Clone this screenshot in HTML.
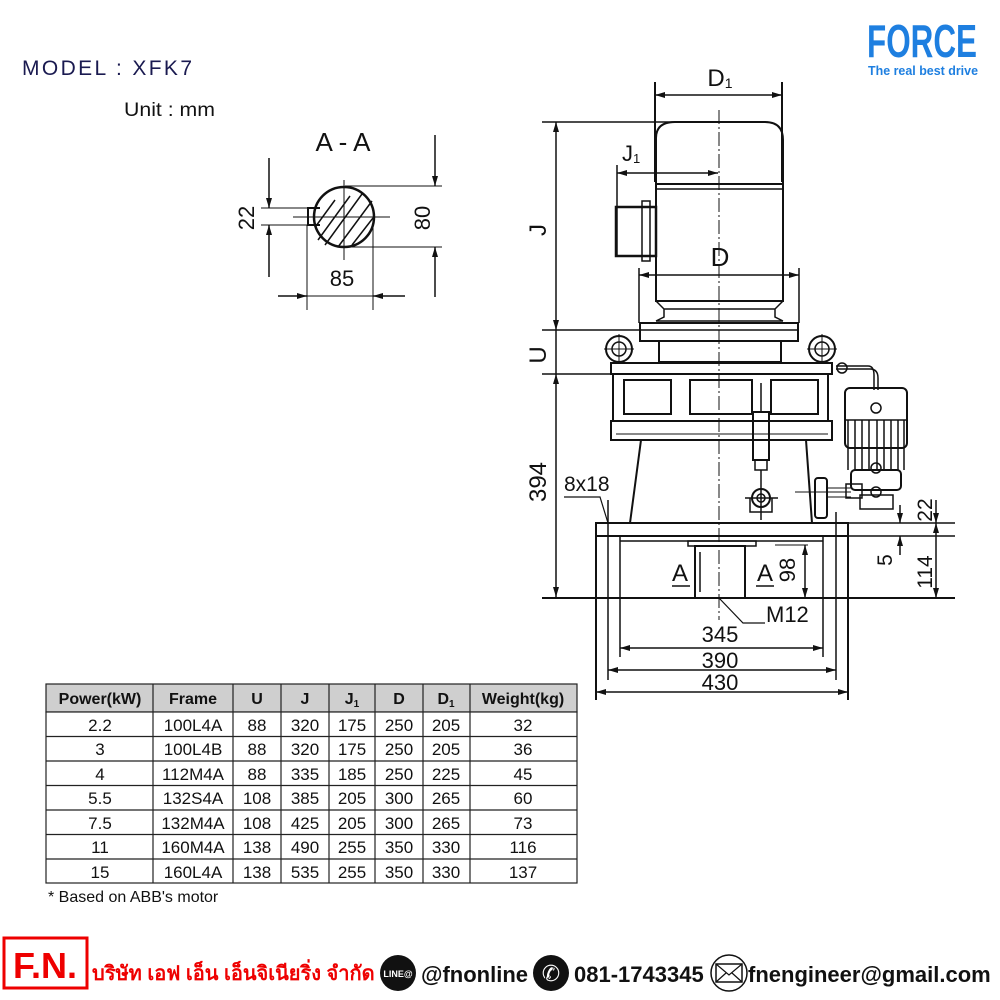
<!DOCTYPE html>
<html><head><meta charset="utf-8"><style>
body{margin:0;background:#fff;width:1000px;height:1000px;overflow:hidden}
svg{display:block}
text{font-family:"Liberation Sans",sans-serif}
</style></head><body>
<svg width="1000" height="1000" viewBox="0 0 1000 1000" xmlns="http://www.w3.org/2000/svg">
<defs>
<marker id="ar" viewBox="0 0 10 6" refX="10" refY="3" markerWidth="10" markerHeight="6" orient="auto-start-reverse" markerUnits="userSpaceOnUse"><path d="M0,0 L10,3 L0,6z" fill="#111"/></marker>
</defs>
<text x="22" y="75" font-size="21" fill="#1a1a50" textLength="170" lengthAdjust="spacing">MODEL : XFK7</text>
<text x="124" y="116" font-size="19" fill="#111" textLength="91" lengthAdjust="spacingAndGlyphs">Unit : mm</text>
<text x="867" y="57" font-size="46" font-weight="bold" fill="#1e7fe0" textLength="110" lengthAdjust="spacingAndGlyphs" font-family="Liberation Sans Narrow, Liberation Sans">FORCE</text>
<text x="868" y="75" font-size="13" font-weight="bold" fill="#1e7fe0" textLength="110" lengthAdjust="spacingAndGlyphs">The real best drive</text>

<!-- A-A section -->
<g stroke="#111" stroke-width="1.5" fill="none">
<text x="343" y="151" font-size="26" text-anchor="middle" fill="#111" stroke="none">A - A</text>
<circle cx="344" cy="217" r="30" stroke-width="2.5"/>
<path d="M320,208 L308,208 L308,225 L320,225" stroke-width="2"/>
<path d="M318,240 L350,196 M325,245 L362,194 M338,247 L372,201 M352,245 L373,218 M316,226 L335,200" stroke-width="1.5"/>
<line x1="293" y1="217" x2="390" y2="217" stroke-width="1"/>
<line x1="344" y1="180" x2="344" y2="260" stroke-width="1"/>
<line x1="261" y1="208" x2="320" y2="208" stroke-width="1"/><line x1="261" y1="225" x2="320" y2="225" stroke-width="1"/>
<line x1="269" y1="158" x2="269" y2="208" marker-end="url(#ar)"/><line x1="269" y1="277" x2="269" y2="225" marker-end="url(#ar)"/>
<line x1="345" y1="186" x2="442" y2="186" stroke-width="1"/><line x1="345" y1="247" x2="442" y2="247" stroke-width="1"/>
<line x1="435" y1="135" x2="435" y2="186" marker-end="url(#ar)"/><line x1="435" y1="297" x2="435" y2="247" marker-end="url(#ar)"/>
<line x1="307" y1="225" x2="307" y2="310" stroke-width="1"/><line x1="373" y1="220" x2="373" y2="310" stroke-width="1"/>
<line x1="278" y1="296" x2="307" y2="296" marker-end="url(#ar)"/><line x1="405" y1="296" x2="373" y2="296" marker-end="url(#ar)"/>
<line x1="307" y1="296" x2="373" y2="296" stroke-width="1"/>
</g>
<text x="254" y="218" font-size="22" fill="#111" transform="rotate(-90 254 218)" text-anchor="middle">22</text>
<text x="430" y="218" font-size="22" fill="#111" transform="rotate(-90 430 218)" text-anchor="middle">80</text>
<text x="342" y="286" font-size="22" fill="#111" text-anchor="middle">85</text>

<!-- main drawing -->
<g stroke="#111" stroke-width="1.5" fill="none">
<line x1="655" y1="82" x2="655" y2="182" stroke-width="2"/><line x1="782" y1="82" x2="782" y2="182" stroke-width="2"/>
<line x1="655" y1="95" x2="782" y2="95" marker-start="url(#ar)" marker-end="url(#ar)"/>
<line x1="542" y1="122" x2="760" y2="122"/>
<path d="M656,184 L656,138 Q656,122 675,122 L765,122 Q783,122 783,140 L783,184" stroke-width="2"/>
<rect x="656" y="184" width="127" height="117" stroke-width="2"/>
<line x1="656" y1="189" x2="783" y2="189"/>
<path d="M656,301 L664,309 L664,317 L656,321 M783,301 L775,309 L775,317 L783,321 M664,309 L775,309 M656,321 L783,321"/>
<line x1="617" y1="165" x2="617" y2="256"/>
<line x1="617" y1="173" x2="718" y2="173" marker-start="url(#ar)" marker-end="url(#ar)"/>
<rect x="616" y="207" width="40" height="49" stroke-width="2.5"/>
<rect x="642" y="201" width="8" height="60"/>
<line x1="719" y1="110" x2="719" y2="620" stroke-width="1" stroke-dasharray="14,3,2,3"/>
<line x1="639" y1="268" x2="639" y2="323"/><line x1="799" y1="268" x2="799" y2="323"/>
<line x1="639" y1="275" x2="799" y2="275" marker-start="url(#ar)" marker-end="url(#ar)"/>
<rect x="640" y="323" width="158" height="18" stroke-width="2"/>
<line x1="640" y1="330" x2="798" y2="330"/>
<rect x="659" y="341" width="122" height="21" stroke-width="2"/>
<line x1="556" y1="122" x2="556" y2="330" marker-start="url(#ar)" marker-end="url(#ar)"/>
<line x1="556" y1="330" x2="556" y2="374"/>
<line x1="556" y1="374" x2="556" y2="597" marker-start="url(#ar)" marker-end="url(#ar)"/>
<line x1="542" y1="330" x2="640" y2="330"/><line x1="542" y1="374" x2="612" y2="374"/>
<circle cx="619" cy="349" r="13" stroke-width="2"/><circle cx="619" cy="349" r="7"/>
<circle cx="822" cy="349" r="13" stroke-width="2"/><circle cx="822" cy="349" r="7"/>
<path d="M604,349 L634,349 M619,334 L619,364 M807,349 L837,349 M822,334 L822,364" stroke-width="1"/>
<rect x="611" y="363" width="221" height="11" stroke-width="2"/>
<rect x="613" y="374" width="215" height="47" stroke-width="2"/>
<rect x="624" y="380" width="47" height="34" stroke-width="2"/>
<rect x="690" y="380" width="62" height="34" stroke-width="2"/>
<rect x="771" y="380" width="47" height="34" stroke-width="2"/>
<rect x="611" y="421" width="221" height="19" stroke-width="2"/>
<line x1="616" y1="434" x2="828" y2="434" stroke-width="1"/>
<path d="M641,440 L630,523 M806,440 L812,523" stroke-width="2"/>
<rect x="753" y="412" width="16" height="48" stroke-width="2"/>
<line x1="761" y1="383" x2="761" y2="412"/>
<rect x="755" y="460" width="12" height="10"/>
<circle cx="761" cy="498" r="9" stroke-width="2"/><circle cx="761" cy="498" r="4"/>
<path d="M750,498 L750,512 L772,512 L772,498 M745,498 L778,498 M761,470 L761,520"/>
<rect x="845" y="388" width="62" height="60" rx="5" stroke-width="2"/>
<path d="M848,420 L848,470 M855,420 L855,470 M862,420 L862,470 M869,420 L869,470 M877,420 L877,470 M884,420 L884,470 M891,420 L891,470 M898,420 L898,470 M904,420 L904,470" stroke-width="1.5"/>
<line x1="845" y1="420" x2="907" y2="420"/>
<rect x="851" y="470" width="50" height="20" rx="4" stroke-width="2"/>
<circle cx="876" cy="408" r="5"/><circle cx="876" cy="468" r="5"/><circle cx="876" cy="492" r="5"/>
<path d="M836,369 L870,369 Q878,369 878,378 L878,390 M836,366 L868,366 Q874,366 874,375 L874,390" stroke-width="1.5"/>
<circle cx="842" cy="368" r="5"/>
<rect x="815" y="478" width="12" height="40" rx="3" stroke-width="2"/>
<path d="M827,488 L851,488 M827,497 L851,497 M795,492 L851,492" stroke-width="1"/>
<rect x="846" y="484" width="16" height="14"/>
<rect x="860" y="495" width="33" height="14"/>
<rect x="596" y="523" width="252" height="13" stroke-width="2"/>
<line x1="596" y1="536" x2="596" y2="700" stroke-width="2"/><line x1="848" y1="536" x2="848" y2="700" stroke-width="2"/>
<line x1="608" y1="500" x2="608" y2="680"/><line x1="836" y1="512" x2="836" y2="680"/>
<line x1="620" y1="536" x2="620" y2="657"/><line x1="823" y1="536" x2="823" y2="657"/>
<line x1="620" y1="541" x2="823" y2="541"/>
<rect x="688" y="541" width="68" height="5"/>
<rect x="695" y="546" width="50" height="52" stroke-width="2"/>
<line x1="700" y1="552" x2="700" y2="592"/>
<line x1="542" y1="598" x2="955" y2="598" stroke-width="2"/>
<line x1="848" y1="523" x2="955" y2="523"/><line x1="848" y1="536" x2="955" y2="536"/>
<line x1="900" y1="505" x2="900" y2="523" marker-end="url(#ar)"/><line x1="900" y1="555" x2="900" y2="536" marker-end="url(#ar)"/>
<line x1="936" y1="500" x2="936" y2="523" marker-end="url(#ar)"/><line x1="936" y1="523" x2="936" y2="598" marker-start="url(#ar)" marker-end="url(#ar)"/>
<line x1="805" y1="545" x2="805" y2="598" marker-start="url(#ar)" marker-end="url(#ar)"/>
<line x1="775" y1="545" x2="808" y2="545" stroke-width="1"/>
<line x1="620" y1="648" x2="823" y2="648" marker-start="url(#ar)" marker-end="url(#ar)"/>
<line x1="608" y1="670" x2="836" y2="670" marker-start="url(#ar)" marker-end="url(#ar)"/>
<line x1="596" y1="692" x2="848" y2="692" marker-start="url(#ar)" marker-end="url(#ar)"/>
<path d="M719,598 L743,623 L765,623" stroke-width="1.2"/>
<path d="M564,497 L600,497 L608,523" stroke-width="1.2"/>
<path d="M672,586 L690,586 M756,586 L774,586" stroke-width="1.5"/>
</g>
<g fill="#111" font-size="24">
<text x="720" y="86" text-anchor="middle">D<tspan font-size="14" dy="2">1</tspan></text>
<text x="622" y="161" font-size="22">J<tspan font-size="13" dy="2">1</tspan></text>
<text x="720" y="266" text-anchor="middle" font-size="26">D</text>
<text x="546" y="230" transform="rotate(-90 546 230)" text-anchor="middle">J</text>
<text x="546" y="355" transform="rotate(-90 546 355)" text-anchor="middle">U</text>
<text x="546" y="482" transform="rotate(-90 546 482)" text-anchor="middle">394</text>
<text x="564" y="491" font-size="21">8x18</text>
<text x="680" y="581" text-anchor="middle">A</text>
<text x="765" y="581" text-anchor="middle">A</text>
<text x="795" y="570" transform="rotate(-90 795 570)" text-anchor="middle" font-size="22">98</text>
<text x="766" y="622" font-size="22">M12</text>
<text x="720" y="642" text-anchor="middle" font-size="22">345</text>
<text x="720" y="668" text-anchor="middle" font-size="22">390</text>
<text x="720" y="690" text-anchor="middle" font-size="22">430</text>
<text x="932" y="510" transform="rotate(-90 932 510)" text-anchor="middle" font-size="21">22</text>
<text x="892" y="560" transform="rotate(-90 892 560)" text-anchor="middle" font-size="21">5</text>
<text x="932" y="572" transform="rotate(-90 932 572)" text-anchor="middle" font-size="21">114</text>
</g>

<g stroke="#222" stroke-width="1.2">
<rect x="46" y="684" width="531" height="28" fill="#cfcfcf"/>
<rect x="46" y="712" width="531" height="171" fill="#fff"/>
<path d="M46,736.5H577M46,761H577M46,785.5H577M46,810H577M46,834.5H577M46,859H577" fill="none"/>
<path d="M153,684V883M233,684V883M281,684V883M329,684V883M375,684V883M423,684V883M470,684V883" fill="none"/>
</g>
<g font-size="16" fill="#111" text-anchor="middle">
<g font-weight="bold">
<text x="100" y="704">Power(kW)</text><text x="193" y="704">Frame</text><text x="257" y="704">U</text><text x="305" y="704">J</text><text x="352" y="704">J<tspan font-size="10" dy="3">1</tspan></text><text x="399" y="704">D</text><text x="446" y="704">D<tspan font-size="10" dy="3">1</tspan></text><text x="523" y="704">Weight(kg)</text>
</g>
<g font-size="17">
<text x="100" y="731">2.2</text><text x="193" y="731">100L4A</text><text x="257" y="731">88</text><text x="305" y="731">320</text><text x="352" y="731">175</text><text x="399" y="731">250</text><text x="446" y="731">205</text><text x="523" y="731">32</text>
<text x="100" y="755">3</text><text x="193" y="755">100L4B</text><text x="257" y="755">88</text><text x="305" y="755">320</text><text x="352" y="755">175</text><text x="399" y="755">250</text><text x="446" y="755">205</text><text x="523" y="755">36</text>
<text x="100" y="780">4</text><text x="193" y="780">112M4A</text><text x="257" y="780">88</text><text x="305" y="780">335</text><text x="352" y="780">185</text><text x="399" y="780">250</text><text x="446" y="780">225</text><text x="523" y="780">45</text>
<text x="100" y="804">5.5</text><text x="193" y="804">132S4A</text><text x="257" y="804">108</text><text x="305" y="804">385</text><text x="352" y="804">205</text><text x="399" y="804">300</text><text x="446" y="804">265</text><text x="523" y="804">60</text>
<text x="100" y="829">7.5</text><text x="193" y="829">132M4A</text><text x="257" y="829">108</text><text x="305" y="829">425</text><text x="352" y="829">205</text><text x="399" y="829">300</text><text x="446" y="829">265</text><text x="523" y="829">73</text>
<text x="100" y="853">11</text><text x="193" y="853">160M4A</text><text x="257" y="853">138</text><text x="305" y="853">490</text><text x="352" y="853">255</text><text x="399" y="853">350</text><text x="446" y="853">330</text><text x="523" y="853">116</text>
<text x="100" y="878">15</text><text x="193" y="878">160L4A</text><text x="257" y="878">138</text><text x="305" y="878">535</text><text x="352" y="878">255</text><text x="399" y="878">350</text><text x="446" y="878">330</text><text x="523" y="878">137</text>
</g>
</g>
<text x="48" y="902" font-size="16" fill="#111">* Based on ABB's motor</text>

<rect x="4" y="938" width="83" height="50" fill="#fff" stroke="#e00" stroke-width="3"/>
<text x="45" y="978" font-size="36" font-weight="bold" fill="#e00" text-anchor="middle">F.N.</text>
<text x="92" y="980" font-size="20" font-weight="bold" fill="#e00" font-family="Liberation Sans, DejaVu Sans, sans-serif">บริษัท เอฟ เอ็น เอ็นจิเนียริ่ง จำกัด</text>
<circle cx="398" cy="973" r="18" fill="#111"/>
<text x="398" y="977" font-size="9" font-weight="bold" fill="#fff" text-anchor="middle">LINE@</text>
<text x="421" y="982" font-size="22" font-weight="bold" fill="#111">@fnonline</text>
<circle cx="551" cy="973" r="18" fill="#111"/>
<text x="551" y="981" font-size="22" fill="#fff" text-anchor="middle">✆</text>
<text x="574" y="982" font-size="22" font-weight="bold" fill="#111" font-family="Liberation Mono, monospace">081-1743345</text>
<circle cx="729" cy="973" r="18" fill="#fff" stroke="#111" stroke-width="1.5"/>
<rect x="716" y="964" width="26" height="18" fill="none" stroke="#111" stroke-width="1.5"/>
<path d="M716,964 L729,975 L742,964 M716,982 L726,973 M742,982 L732,973" fill="none" stroke="#111" stroke-width="1.2"/>
<text x="748" y="982" font-size="22" font-weight="bold" fill="#111">fnengineer@gmail.com</text>
</svg>
</body></html>
